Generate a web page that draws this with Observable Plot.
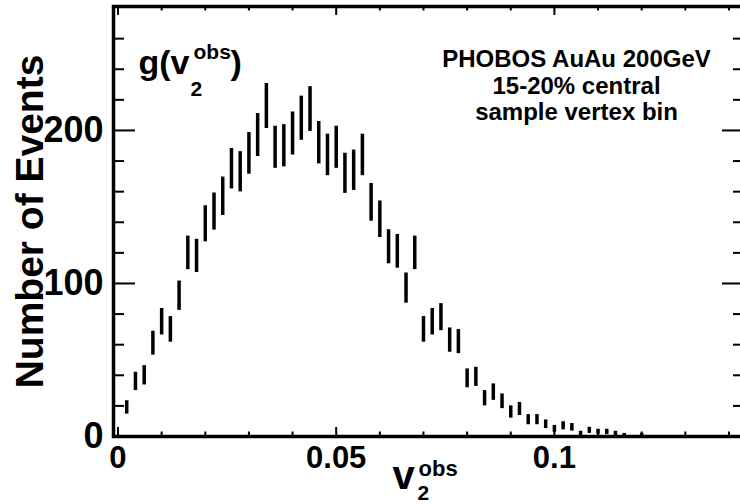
<!DOCTYPE html>
<html>
<head>
<meta charset="utf-8">
<script src="https://cdn.jsdelivr.net/npm/d3@7"></script>
<script src="https://cdn.jsdelivr.net/npm/@observablehq/plot@0.6"></script>
<style>
  html, body { margin: 0; padding: 0; background: #fff; }
  #chart svg { display: block; font-family: "Liberation Sans", Arial, Helvetica, sans-serif; font-weight: bold; }
</style>
</head>
<body>
<div id="chart"></div>
<script>
// v2obs histogram, bin width 0.002: bin centres and event counts
const binCenters = [
  0.002, 0.004, 0.006, 0.008, 0.010, 0.012, 0.014, 0.016, 0.018, 0.020,
  0.022, 0.024, 0.026, 0.028, 0.030, 0.032, 0.034, 0.036, 0.038, 0.040,
  0.042, 0.044, 0.046, 0.048, 0.050, 0.052, 0.054, 0.056, 0.058, 0.060,
  0.062, 0.064, 0.066, 0.068, 0.070, 0.072, 0.074, 0.076, 0.078, 0.080,
  0.082, 0.084, 0.086, 0.088, 0.090, 0.092, 0.094, 0.096, 0.098, 0.100,
  0.102, 0.104, 0.106, 0.108, 0.110, 0.112, 0.114, 0.116, 0.118, 0.120
];
const eventCounts = [
  19, 36, 40, 61, 75, 70, 92, 120, 118, 139,
  147, 157, 175, 173, 185, 197, 216, 189, 190, 198,
  208, 214, 192, 184, 189, 172, 174, 184, 153, 142,
  124, 121, 97, 120, 70, 75, 78, 63, 62, 38,
  39, 25, 29, 23, 16, 18, 11, 11, 8, 5,
  7, 6, 2, 4, 3, 3, 2, 1, 0, 1
];

// axis ticks and their labels
const xMajorTicks = [0, 0.05, 0.1];
const xMinorTicks = [0.01, 0.02, 0.03, 0.04, 0.06, 0.07, 0.08, 0.09, 0.11, 0.12, 0.13, 0.14];
const xTickLabels = ["0", "0.05", "0.1"];
const yMajorTicks = [0, 100, 200];
const yMinorTicks = [20, 40, 60, 80, 120, 140, 160, 180, 220, 240, 260];
const yTickLabels = ["0", "100", "200"];

const annotationLines = ["PHOBOS AuAu 200GeV", "15-20% central", "sample vertex bin"];

// layout
const W = 740, H = 504;
const mLeft = 113, mRight = -4, mTop = 6, mBottom = 68;
const frameW = W - mLeft - mRight;
const frameH = H - mTop - mBottom;

// Poisson error bars around each count
const bins = binCenters
  .map((v, i) => ({v, n: eventCounts[i]}))
  .filter(d => d.n > 0)
  .map(d => ({...d, lo: d.n - Math.sqrt(d.n), hi: d.n + Math.sqrt(d.n)}));

const ink = "#000";
const bottomTicks = (values, len) => Plot.ruleX(values, {x: d => d, insetTop: frameH - len, stroke: ink, strokeWidth: 2});
const topTicks = (values, len) => Plot.ruleX(values, {x: d => d, insetBottom: frameH - len, stroke: ink, strokeWidth: 2});
const leftTicks = (values, len) => Plot.ruleY(values, {y: d => d, insetRight: frameW - len, stroke: ink, strokeWidth: 2});
const rightTicks = (values, len) => Plot.ruleY(values, {y: d => d, insetLeft: frameW - len, stroke: ink, strokeWidth: 2});

const label = (str, anchor, dx, dy, size) =>
  Plot.text([str], {text: d => d, frameAnchor: anchor, textAnchor: "start", lineAnchor: "bottom",
                    dx, dy, fontSize: size, fontWeight: "bold", fill: ink});

const chart = Plot.plot({
  width: W,
  height: H,
  marginLeft: mLeft,
  marginRight: mRight,
  marginTop: mTop,
  marginBottom: mBottom,
  x: {domain: [-0.00103, 0.14356], axis: null},
  y: {domain: [0, 281], axis: null},
  style: {fontFamily: "'Liberation Sans', Arial, Helvetica, sans-serif", background: "#fff", overflow: "hidden"},
  marks: [
    // error bars
    Plot.ruleX(bins, {x: "v", y1: "lo", y2: "hi", stroke: ink, strokeWidth: 3.5}),

    // tick marks on all four sides
    bottomTicks(xMajorTicks, 9), bottomTicks(xMinorTicks, 4.5),
    topTicks(xMajorTicks, 9), topTicks(xMinorTicks, 4.5),
    leftTicks(yMajorTicks, 22), leftTicks(yMinorTicks, 11),
    rightTicks(yMajorTicks, 22), rightTicks(yMinorTicks, 11),

    Plot.frame({stroke: ink, strokeWidth: 3.5}),

    // tick labels
    Plot.text(xMajorTicks, {x: d => d, text: (d, i) => xTickLabels[i], frameAnchor: "bottom",
                            lineAnchor: "middle", dy: 22, fontSize: 31, fontWeight: "bold", fill: ink}),
    Plot.text(yMajorTicks, {y: d => d, text: (d, i) => yTickLabels[i], frameAnchor: "left",
                            textAnchor: "end", lineAnchor: "middle", dx: -10,
                            fontSize: 36, fontWeight: "bold", fill: ink, ariaLabel: "y tick labels"}),

    // axis titles
    Plot.text(["Number of Events"], {text: d => d, frameAnchor: "left", rotate: -90, dx: -83,
                                     textAnchor: "middle", lineAnchor: "middle",
                                     fontSize: 39, fontWeight: "bold", fill: ink}),
    label("v", "bottom-left", 279, 52, 40),
    label("2", "bottom-left", 304, 63, 21),
    label("obs", "bottom-left", 305, 39, 22),

    // function label g(v2obs)
    label("g(v", "top-left", 25, 67, 34),
    label("2", "top-left", 77, 89, 21),
    label("obs", "top-left", 80, 52, 21),
    label(")", "top-left", 117, 67, 34),

    // run description
    Plot.text([annotationLines.join("\n")], {text: d => d, frameAnchor: "top-right", textAnchor: "middle",
                                             lineAnchor: "top", lineHeight: 1.1, dx: -168, dy: 42,
                                             fontSize: 24, fontWeight: "bold", fill: ink})
  ]
});

// narrow the y tick labels horizontally (condensed digits)
d3.select(chart).selectAll('g[aria-label="y tick labels"] text').each(function () {
  const t = this.getAttribute("transform");
  if (t) {
    this.setAttribute("transform", t + " scale(0.77,1)");
  } else {
    const x = +this.getAttribute("x") || 0;
    this.setAttribute("transform", `translate(${x},0) scale(0.77,1) translate(${-x},0)`);
  }
});

document.getElementById("chart").append(chart);
</script>
</body>
</html>
